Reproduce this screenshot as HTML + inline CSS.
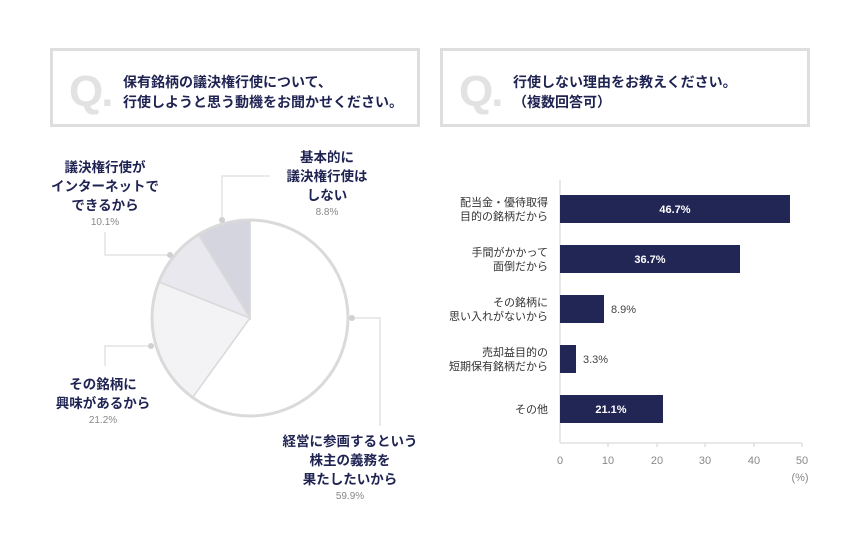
<!DOCTYPE html>
<html><head><meta charset="utf-8"><style>
body{margin:0;width:860px;height:550px;background:#fff;font-family:"Liberation Sans","Noto Sans CJK JP",sans-serif;position:relative;overflow:hidden}
.box{position:absolute;top:48px;height:79px;border:3px solid #dedede;box-sizing:border-box}
.q{position:absolute;left:16px;top:16px;font-size:44px;font-weight:bold;color:#e2e2e2;font-family:"Liberation Sans",sans-serif;letter-spacing:-2px}
.qt{position:absolute;left:70px;top:21px;font-size:14px;font-weight:bold;color:#1f2352;line-height:20px}
.lab{position:absolute;text-align:center;font-size:13.5px;font-weight:bold;color:#1f2352;line-height:19px;transform:translateX(-50%);white-space:nowrap}
.lab span{display:block;font-size:10px;font-weight:normal;color:#888;line-height:16px}
.bl{position:absolute;right:312px;text-align:right;font-size:11px;color:#333;line-height:14px;white-space:nowrap}
</style></head><body>
<div class="box" style="left:50px;width:370px"><div class="q">Q.</div><div class="qt">保有銘柄の議決権行使について、<br>行使しようと思う動機をお聞かせください。</div></div>
<div class="box" style="left:440px;width:370px"><div class="q">Q.</div><div class="qt">行使しない理由をお教えください。<br>（複数回答可）</div></div>
<svg width="860" height="550" style="position:absolute;left:0;top:0">
<g fill="none" stroke="#e3e3e3" stroke-width="1.5">
<polyline points="222,220 222,176 270,176"/>
<polyline points="170,255 105,255 105,232"/>
<polyline points="151,346 105,346 105,366"/>
<polyline points="352,318 380,318 380,426"/>
</g>
<g stroke="#dadada" stroke-width="1.5">
<path d="M250,318 L250,220 A98,98 0 1 1 192.6,397.4 Z" fill="#fff"/>
<path d="M250,318 L192.6,397.4 A98,98 0 0 1 159,282 Z" fill="#f3f3f6"/>
<path d="M250,318 L159,282 A98,98 0 0 1 198.5,234.6 Z" fill="#e8e8ee"/>
<path d="M250,318 L198.5,234.6 A98,98 0 0 1 250,220 Z" fill="#d4d5df"/>
</g>
<circle cx="250" cy="318" r="98" fill="none" stroke="#dadada" stroke-width="3"/>
<g fill="#d0d0d0"><circle cx="222" cy="220" r="3"/><circle cx="170" cy="255" r="3"/><circle cx="151" cy="346" r="3"/><circle cx="352" cy="318" r="3"/></g>
<g stroke="#e0e0e0" stroke-width="1.5"><line x1="560" y1="180" x2="560" y2="443"/><line x1="560" y1="443" x2="802" y2="443"/>
<line x1="608" y1="443" x2="608" y2="447"/><line x1="657" y1="443" x2="657" y2="447"/><line x1="705" y1="443" x2="705" y2="447"/><line x1="754" y1="443" x2="754" y2="447"/><line x1="802" y1="443" x2="802" y2="447"/></g>
<g fill="#222655">
<rect x="560" y="195" width="230" height="28"/><rect x="560" y="245" width="180" height="28"/><rect x="560" y="295" width="44" height="28"/><rect x="560" y="345" width="16" height="28"/><rect x="560" y="395" width="103" height="28"/>
</g>
<g font-size="11" font-family="Liberation Sans,sans-serif" font-weight="bold" fill="#fff" text-anchor="middle">
<text x="675" y="213">46.7%</text><text x="650" y="263">36.7%</text><text x="611" y="413">21.1%</text></g>
<g font-size="11" font-family="Liberation Sans,sans-serif" fill="#444">
<text x="611" y="313">8.9%</text><text x="583" y="363">3.3%</text></g>
<g font-size="11" font-family="Liberation Sans,sans-serif" fill="#888" text-anchor="middle">
<text x="560" y="464">0</text><text x="608" y="464">10</text><text x="657" y="464">20</text><text x="705" y="464">30</text><text x="754" y="464">40</text><text x="802" y="464">50</text><text x="800" y="481">(%)</text></g>
</svg>
<div class="lab" style="left:105px;top:158px">議決権行使が<br>インターネットで<br>できるから<span>10.1%</span></div>
<div class="lab" style="left:327px;top:148px">基本的に<br>議決権行使は<br>しない<span>8.8%</span></div>
<div class="lab" style="left:103px;top:375px">その銘柄に<br>興味があるから<span>21.2%</span></div>
<div class="lab" style="left:350px;top:432px">経営に参画するという<br>株主の義務を<br>果たしたいから<span>59.9%</span></div>
<div class="bl" style="top:196px">配当金・優待取得<br>目的の銘柄だから</div>
<div class="bl" style="top:246px">手間がかかって<br>面倒だから</div>
<div class="bl" style="top:296px">その銘柄に<br>思い入れがないから</div>
<div class="bl" style="top:346px">売却益目的の<br>短期保有銘柄だから</div>
<div class="bl" style="top:403px">その他</div>
</body></html>
